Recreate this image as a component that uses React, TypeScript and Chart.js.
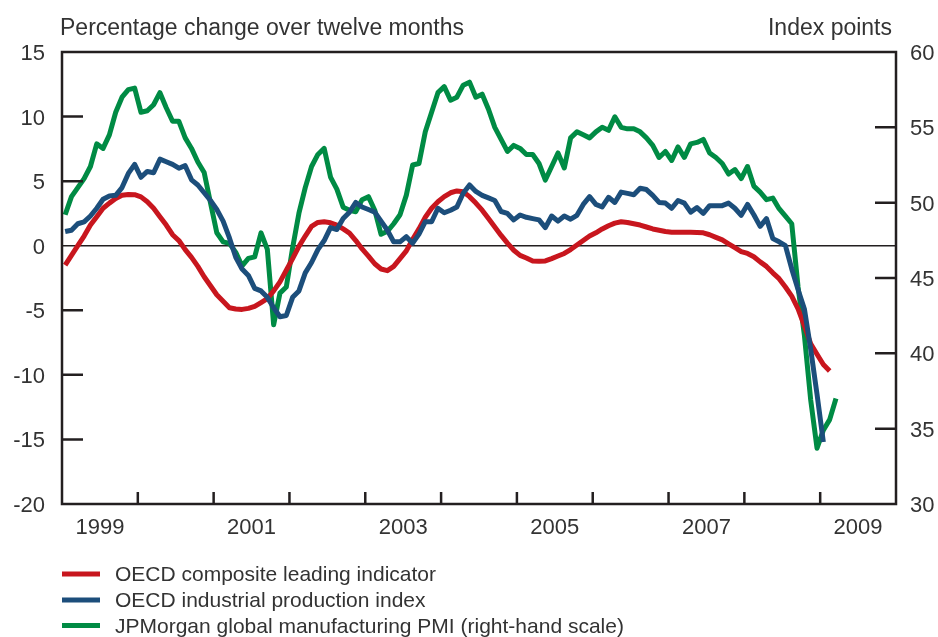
import React, { useEffect, useRef } from 'react';
import { Chart, registerables } from 'chart.js';

Chart.register(...registerables);

// ---- Data ----
const START_YEAR = 1999; // first monthly observation: January 1999
const X_MIN = 1999;
const X_MAX = 2010;
const YEAR_LABELS = [1999, 2001, 2003, 2005, 2007, 2009];
const YEAR_TICKS = [2000, 2001, 2002, 2003, 2004, 2005, 2006, 2007, 2008, 2009];
const LEFT_INNER_TICKS = [10, 5, -5, -10, -15];
const RIGHT_INNER_TICKS = [55, 50, 45, 40, 35];

const LEFT_TITLE = 'Percentage change over twelve months';
const RIGHT_TITLE = 'Index points';

const SERIES_NAMES = [
  'OECD composite leading indicator',
  'OECD industrial production index',
  'JPMorgan global manufacturing PMI (right-hand scale)',
];

// OECD composite leading indicator (% change over 12 months), Jan 1999 - Feb 2009
const cli = [
  -1.5, -0.75, 0.0, 0.75, 1.6, 2.25, 2.9, 3.3, 3.65, 3.9, 3.97, 3.95,
  3.78, 3.4, 2.9, 2.25, 1.6, 0.85, 0.4, -0.3, -0.9, -1.6, -2.4, -3.1,
  -3.8, -4.3, -4.8, -4.9, -4.93, -4.85, -4.7, -4.4, -4.1, -3.5, -2.8, -1.9,
  -1.0, -0.05, 0.75, 1.5, 1.8, 1.85, 1.78, 1.6, 1.3, 0.98, 0.4, -0.25,
  -0.8, -1.4, -1.8, -1.93, -1.6, -1.0, -0.4, 0.5, 1.3, 2.2, 2.9, 3.4,
  3.8, 4.1, 4.24, 4.18, 3.8, 3.3, 2.75, 2.1, 1.45, 0.8, 0.2, -0.35,
  -0.75, -0.95, -1.18, -1.2, -1.18, -1.0, -0.8, -0.6, -0.3, 0.05, 0.4, 0.75,
  1.0, 1.3, 1.55, 1.75, 1.86, 1.8, 1.7, 1.6, 1.45, 1.3, 1.2, 1.1,
  1.04, 1.04, 1.04, 1.04, 1.03, 1.0, 0.85, 0.65, 0.45, 0.15, -0.15, -0.45,
  -0.6, -0.85, -1.25, -1.6, -2.1, -2.55, -3.2, -3.9, -4.9, -6.2, -7.6, -8.4,
  -9.2, -9.7,
];

// OECD industrial production index (% change over 12 months), Jan 1999 - Jan 2009
const ipi = [
  1.1, 1.2, 1.7, 1.85, 2.3, 2.9, 3.6, 3.85, 3.9, 4.5, 5.6, 6.3,
  5.3, 5.75, 5.65, 6.7, 6.5, 6.3, 6.0, 6.2, 5.1, 4.7, 4.1, 3.5,
  2.8, 1.9, 0.6, -0.9, -1.8, -2.3, -3.3, -3.5, -4.0, -4.8, -5.5, -5.4,
  -4.0, -3.5, -2.1, -1.3, -0.3, 0.4, 1.4, 1.25, 2.1, 2.6, 3.35, 3.0,
  2.8, 2.6, 1.9, 1.2, 0.3, 0.3, 0.7, 0.2, 0.9, 1.86, 1.86, 2.9,
  2.55, 2.75, 3.0, 4.06, 4.7, 4.2, 3.9, 3.7, 3.5, 2.65, 2.5, 2.0,
  2.38, 2.2, 2.1, 2.0, 1.4, 2.3, 1.9, 2.3, 2.05, 2.35, 3.2, 3.8,
  3.2, 3.0, 3.75, 3.35, 4.15, 4.05, 3.95, 4.45, 4.35, 3.9, 3.35, 3.3,
  2.9, 3.5, 3.3, 2.6, 2.95, 2.5, 3.1, 3.1, 3.1, 3.3, 2.9, 2.35,
  3.2, 2.4, 1.5, 2.1, 0.55, 0.3, 0.0, -1.8, -3.4, -4.9, -8.0, -11.5,
  -15.2,
];

// JPMorgan global manufacturing PMI (index points), Jan 1999 - Mar 2009
const pmi = [
  49.2, 50.4, 51.0, 51.6, 52.4, 53.9, 53.6, 54.5, 56.0, 57.0, 57.5, 57.6,
  56.0, 56.1, 56.5, 57.3, 56.3, 55.4, 55.4, 54.3, 53.6, 52.7, 52.0, 50.0,
  48.0, 47.4, 47.3, 46.7, 45.8, 46.3, 46.4, 48.0, 46.9, 41.9, 44.0, 44.4,
  47.0, 49.3, 51.0, 52.4, 53.2, 53.6, 51.7, 50.9, 49.7, 49.5, 49.4, 50.2,
  50.4, 49.5, 47.9, 48.1, 48.6, 49.2, 50.5, 52.5, 52.6, 54.7, 56.0, 57.3,
  57.7, 56.8, 57.0, 57.8, 58.0, 57.0, 57.2, 56.2, 55.0, 54.2, 53.4, 53.8,
  53.6, 53.2, 53.2, 52.6, 51.5, 52.4, 53.3, 52.3, 54.3, 54.7, 54.5, 54.3,
  54.7, 55.0, 54.8, 55.7, 55.0, 54.9, 54.9, 54.7, 54.3, 53.8, 53.0, 53.4,
  52.8, 53.7, 53.0, 53.9, 54.0, 54.2, 53.3, 53.0, 52.6, 51.9, 52.2, 51.6,
  52.4, 51.1, 50.7, 50.2, 50.3, 49.6, 49.1, 48.6, 44.4, 41.2, 36.9, 33.7,
  34.9, 35.6, 37.0,
];

const RED = '#c8161e';
const BLUE = '#1c4e7b';
const GREEN = '#008b44';
const INK = '#231f20';
const TEXT = '#333333';
const FONT = '"Liberation Sans", Arial, Helvetica, sans-serif';

const toPoints = (vals: number[]) =>
  vals.map((v, i) => ({ x: START_YEAR + (i + 0.5) / 12, y: v }));

const decorPlugin = {
  id: 'decor',
  beforeDatasetsDraw(chart: any) {
    const { ctx, chartArea: a, scales } = chart;
    const y0 = scales.y.getPixelForValue(0);
    ctx.save();
    ctx.strokeStyle = INK;
    ctx.lineWidth = 1.6;
    ctx.beginPath();
    ctx.moveTo(a.left, y0);
    ctx.lineTo(a.right, y0);
    ctx.stroke();
    ctx.restore();
  },
  afterDraw(chart: any) {
    const { ctx, chartArea: a, scales } = chart;
    ctx.save();
    ctx.strokeStyle = INK;
    ctx.lineWidth = 2.5;
    ctx.lineCap = 'butt';
    ctx.strokeRect(a.left, a.top, a.right - a.left, a.bottom - a.top);
    ctx.beginPath();
    LEFT_INNER_TICKS.forEach((v) => {
      const y = scales.y.getPixelForValue(v);
      ctx.moveTo(a.left, y);
      ctx.lineTo(a.left + 21, y);
    });
    RIGHT_INNER_TICKS.forEach((v) => {
      const y = scales.y1.getPixelForValue(v);
      ctx.moveTo(a.right, y);
      ctx.lineTo(a.right - 21, y);
    });
    YEAR_TICKS.forEach((v) => {
      const x = scales.x.getPixelForValue(v);
      ctx.moveTo(x, a.bottom);
      ctx.lineTo(x, a.bottom - 12);
    });
    ctx.stroke();

    // axis titles
    ctx.fillStyle = TEXT;
    ctx.font = `23px ${FONT}`;
    ctx.textBaseline = 'alphabetic';
    ctx.textAlign = 'left';
    ctx.fillText(LEFT_TITLE, 60, 35);
    ctx.textAlign = 'right';
    ctx.fillText(RIGHT_TITLE, 892, 35);

    // legend
    const colors = [RED, BLUE, GREEN];
    const rows = [574, 600, 625.5];
    ctx.font = `21px ${FONT}`;
    ctx.textAlign = 'left';
    ctx.textBaseline = 'middle';
    SERIES_NAMES.forEach((name, i) => {
      ctx.strokeStyle = colors[i];
      ctx.lineWidth = 5;
      ctx.beginPath();
      ctx.moveTo(62, rows[i]);
      ctx.lineTo(100, rows[i]);
      ctx.stroke();
      ctx.fillStyle = TEXT;
      ctx.fillText(name, 115, rows[i] + 1.5);
    });
    ctx.restore();
  },
};

export default function App() {
  const ref = useRef<HTMLCanvasElement | null>(null);

  useEffect(() => {
    if (!ref.current) return;
    const lineStyle = {
      borderWidth: 5,
      pointRadius: 0,
      pointHoverRadius: 0,
      tension: 0,
      borderJoinStyle: 'round' as const,
      borderCapStyle: 'butt' as const,
      fill: false,
    };
    const chart = new Chart(ref.current, {
      type: 'line',
      data: {
        datasets: [
          { label: SERIES_NAMES[0], data: toPoints(cli), borderColor: RED, backgroundColor: RED, yAxisID: 'y', order: 1, ...lineStyle },
          { label: SERIES_NAMES[1], data: toPoints(ipi), borderColor: BLUE, backgroundColor: BLUE, yAxisID: 'y', order: 0, ...lineStyle },
          { label: SERIES_NAMES[2], data: toPoints(pmi), borderColor: GREEN, backgroundColor: GREEN, yAxisID: 'y1', order: 2, ...lineStyle },
        ],
      },
      options: {
        responsive: false,
        animation: false,
        devicePixelRatio: 1,
        layout: { padding: { top: 52, left: 0, right: 0, bottom: 0 } },
        plugins: { legend: { display: false }, tooltip: { enabled: false } },
        scales: {
          x: {
            type: 'linear',
            position: 'bottom',
            min: X_MIN,
            max: X_MAX,
            grid: { display: false, drawTicks: false },
            border: { display: false },
            afterBuildTicks: (axis: any) => {
              axis.ticks = YEAR_LABELS.map((v) => ({ value: v + 0.5 }));
            },
            afterFit: (axis: any) => {
              axis.height = 133;
            },
            ticks: {
              autoSkip: false,
              maxRotation: 0,
              padding: 11,
              color: TEXT,
              font: { family: FONT, size: 22 },
              callback: (v: any) => String(Math.floor(Number(v))),
            },
          },
          y: {
            type: 'linear',
            position: 'left',
            min: -20,
            max: 15,
            grid: { display: false, drawTicks: false },
            border: { display: false },
            afterFit: (axis: any) => {
              axis.width = 62;
            },
            ticks: {
              stepSize: 5,
              padding: 17,
              labelOffset: 2,
              color: TEXT,
              font: { family: FONT, size: 22 },
            },
          },
          y1: {
            type: 'linear',
            position: 'right',
            min: 30,
            max: 60,
            grid: { display: false, drawTicks: false },
            border: { display: false },
            afterFit: (axis: any) => {
              axis.width = 42;
            },
            ticks: {
              stepSize: 5,
              padding: 14,
              labelOffset: 2,
              color: TEXT,
              font: { family: FONT, size: 22 },
            },
          },
        },
      },
      plugins: [decorPlugin],
    });
    return () => chart.destroy();
  }, []);

  return (
    <div style={{ position: 'absolute', left: 0, top: 0, width: 938, height: 637, background: '#fff' }}>
      <canvas ref={ref} width={938} height={637} style={{ display: 'block' }} />
    </div>
  );
}
